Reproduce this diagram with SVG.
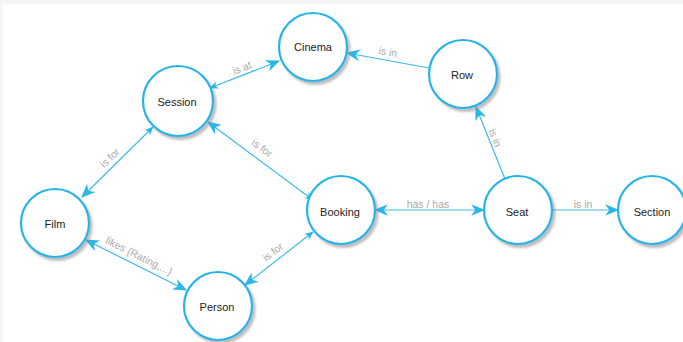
<svg xmlns="http://www.w3.org/2000/svg" width="683" height="342" viewBox="0 0 683 342">
<defs>
<style>
.node circle{fill:#fff;stroke:#27b4e8;stroke-width:2.2;filter:url(#sh)}
.node text{font-family:"Liberation Sans",Arial,sans-serif;font-size:11px;fill:#222;text-anchor:middle}
.edge{stroke:#3dbbea;stroke-width:1.2;fill:none}
.lbl{font-family:"Liberation Sans",Arial,sans-serif;font-size:10.5px;fill:#aaa;text-anchor:middle}
</style>
<filter id="sh" x="-20%" y="-20%" width="150%" height="150%">
<feDropShadow dx="2.5" dy="3" stdDeviation="1.3" flood-color="#888" flood-opacity="0.55"/>
</filter>
<marker id="big" viewBox="0 0 12 10" refX="11" refY="5" markerWidth="14" markerHeight="12" markerUnits="userSpaceOnUse" orient="auto-start-reverse">
<path d="M0,0 L12,5 L0,10 L3.5,5 Z" fill="#29b6e9"/>
</marker>
<marker id="small" viewBox="0 0 12 10" refX="11" refY="5" markerWidth="9" markerHeight="8" markerUnits="userSpaceOnUse" orient="auto-start-reverse">
<path d="M0,0 L12,5 L0,10 L3.5,5 Z" fill="#29b6e9"/>
</marker>
</defs>
<rect x="0" y="0" width="683" height="342" fill="#f6f6f6"/>
<rect x="3" y="4" width="680" height="338" fill="#fff"/>

<g id="connectors">
<line class="edge" x1="210" y1="88" x2="279" y2="61" marker-start="url(#small)" marker-end="url(#big)"/>
<line class="edge" x1="429" y1="68" x2="347" y2="53" marker-end="url(#big)"/>
<line class="edge" x1="505" y1="179" x2="476" y2="107" marker-end="url(#big)"/>
<line class="edge" x1="313" y1="200" x2="208" y2="122" marker-start="url(#small)" marker-end="url(#big)"/>
<line class="edge" x1="153" y1="127" x2="82" y2="197" marker-start="url(#small)" marker-end="url(#big)"/>
<line class="edge" x1="186" y1="290" x2="86" y2="240" marker-start="url(#big)" marker-end="url(#big)"/>
<line class="edge" x1="313" y1="232" x2="245" y2="285" marker-start="url(#small)" marker-end="url(#big)"/>
<line class="edge" x1="375" y1="210" x2="484" y2="210" marker-start="url(#big)" marker-end="url(#big)"/>
<line class="edge" x1="552" y1="210" x2="618" y2="210" marker-end="url(#big)"/>

<text class="lbl" transform="translate(242,68) rotate(-21.5)" y="3.5">is at</text>
<text class="lbl" transform="translate(388,52) rotate(10.4)" y="3.5">is in</text>
<text class="lbl" transform="translate(495,138) rotate(68)" y="3.5">is in</text>
<text class="lbl" transform="translate(262,148) rotate(36.6)" y="3.5">is for</text>
<text class="lbl" transform="translate(110,158) rotate(-44.6)" y="3.5">is for</text>
<text class="lbl" transform="translate(139,256) rotate(26.6)" y="3.5">likes {Rating,...}</text>
<text class="lbl" transform="translate(273,252) rotate(-37.9)" y="3.5">is for</text>
<text class="lbl" x="428" y="207.5">has / has</text>
<text class="lbl" x="583" y="207.5">is in</text>
</g>

<g id="cinema" class="node"><circle cx="313" cy="47" r="34"/><text x="313" y="51">Cinema</text></g>
<g id="row" class="node"><circle cx="463" cy="74" r="34"/><text x="462" y="79">Row</text></g>
<g id="session" class="node"><circle cx="178" cy="101" r="35"/><text x="177" y="106">Session</text></g>
<g id="film" class="node"><circle cx="55" cy="223" r="34"/><text x="55" y="228">Film</text></g>
<g id="booking" class="node"><circle cx="341" cy="210" r="34"/><text x="340" y="216">Booking</text></g>
<g id="seat" class="node"><circle cx="518" cy="210" r="34"/><text x="517" y="216">Seat</text></g>
<g id="section" class="node"><circle cx="652" cy="210" r="34"/><text x="652" y="216">Section</text></g>
<g id="person" class="node"><circle cx="218" cy="306" r="34"/><text x="217" y="311">Person</text></g>
</svg>
